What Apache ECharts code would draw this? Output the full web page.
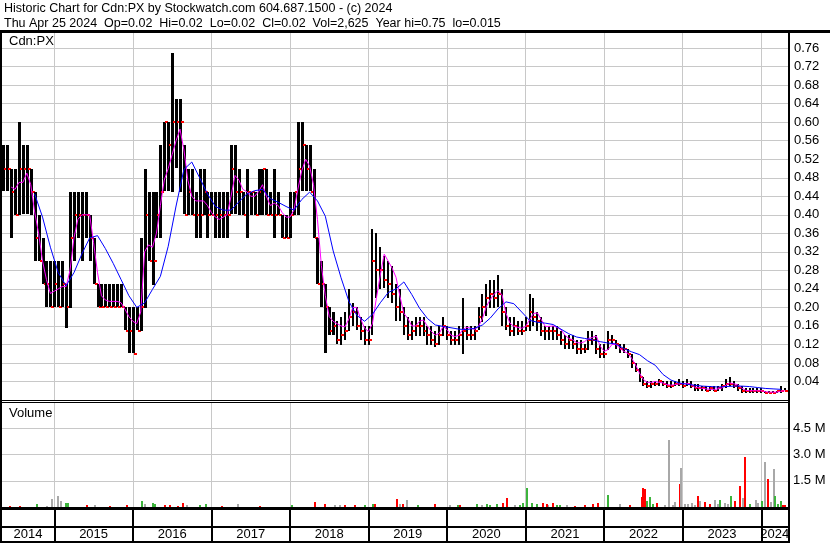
<!DOCTYPE html>
<html><head><meta charset="utf-8">
<script src="https://cdn.jsdelivr.net/npm/echarts@6/dist/echarts.min.js"></script>
<style>html,body{margin:0;padding:0;background:#fff}#c{width:830px;height:543px}</style>
</head><body><div id="c"></div>
<script>
// ---- data ----
const START = 2014.35;   // fractional year of first price point
const STEP = 0.05;       // years between price points
const high = [
 .55,.55,.50,.50,.60,.55,.55,.50,.45,.40,
 .35,.30,.30,.30,.30,.30,.25,.45,.45,.45,
 .45,.45,.40,.35,.25,.25,.25,.25,.25,.25,
 .25,.20,.20,.20,.20,.35,.50,.45,.45,.45,
 .55,.60,.60,.75,.65,.65,.55,.50,.50,.45,
 .50,.50,.45,.45,.45,.45,.45,.45,.55,.55,
 .50,.45,.50,.45,.45,.50,.50,.50,.45,.50,
 .45,.40,.40,.45,.45,.60,.60,.55,.55,.50,
 .35,.30,.25,.20,.19,.17,.18,.19,.24,.21,
 .20,.18,.16,.16,.37,.36,.33,.31,.30,.29,
 .25,.24,.20,.18,.17,.18,.18,.18,.16,.16,
 .15,.16,.18,.16,.15,.15,.16,.22,.16,.16,
 .16,.20,.23,.25,.26,.26,.27,.24,.20,.18,
 .18,.17,.17,.18,.23,.22,.19,.18,.16,.16,
 .16,.16,.15,.14,.14,.14,.13,.13,.12,.15,
 .15,.14,.12,.12,.15,.14,.13,.12,.12,.11,
 .10,.08,.07,.05,.04,.04,.04,.045,.04,.04,
 .04,.04,.045,.04,.045,.04,.035,.035,.03,.03,
 .03,.03,.03,.035,.045,.05,.04,.035,.03,.025,
 .025,.025,.025,.025,.02,.02,.02,.02,.03,.025
];
const low = [
 .45,.45,.35,.40,.40,.40,.40,.40,.30,.30,
 .25,.20,.20,.20,.20,.20,.155,.20,.30,.35,
 .30,.35,.30,.25,.20,.20,.20,.20,.20,.20,
 .20,.15,.10,.10,.15,.15,.20,.30,.25,.35,
 .35,.45,.45,.45,.50,.45,.40,.40,.40,.35,
 .35,.40,.35,.40,.35,.35,.35,.35,.40,.40,
 .40,.40,.35,.40,.40,.40,.40,.40,.40,.35,
 .40,.35,.35,.35,.40,.40,.45,.45,.45,.35,
 .25,.20,.10,.14,.14,.12,.12,.13,.15,.16,
 .15,.13,.12,.12,.14,.22,.24,.24,.22,.21,
 .17,.17,.14,.13,.13,.14,.14,.14,.12,.12,
 .115,.12,.14,.13,.12,.12,.12,.10,.13,.13,
 .13,.15,.17,.18,.20,.20,.20,.16,.15,.14,
 .14,.14,.14,.15,.15,.16,.15,.14,.13,.13,
 .13,.13,.12,.11,.11,.11,.10,.10,.10,.11,
 .12,.10,.09,.09,.11,.12,.11,.10,.10,.09,
 .07,.06,.04,.03,.025,.025,.03,.03,.03,.025,
 .025,.03,.03,.025,.03,.025,.02,.02,.02,.02,
 .02,.02,.02,.02,.025,.03,.025,.02,.015,.015,
 .015,.015,.015,.015,.015,.015,.015,.015,.015,.02
];
const close = [
 .50,.50,.45,.40,.50,.50,.50,.45,.35,.30,
 .25,.25,.20,.25,.20,.25,.20,.35,.40,.40,
 .40,.40,.35,.25,.20,.20,.20,.20,.20,.20,
 .20,.15,.15,.10,.15,.20,.40,.30,.30,.40,
 .45,.60,.55,.60,.60,.60,.40,.45,.40,.40,
 .40,.45,.40,.40,.40,.40,.40,.40,.50,.45,
 .45,.40,.45,.45,.40,.45,.50,.40,.40,.40,
 .40,.35,.35,.40,.45,.50,.55,.50,.45,.35,
 .25,.25,.20,.15,.16,.13,.14,.15,.18,.19,
 .16,.15,.13,.13,.30,.28,.28,.26,.25,.23,
 .20,.19,.16,.14,.15,.16,.16,.15,.14,.13,
 .12,.14,.16,.14,.13,.13,.14,.15,.14,.14,
 .15,.18,.20,.22,.23,.22,.23,.19,.16,.15,
 .16,.15,.15,.16,.19,.18,.17,.15,.15,.15,
 .15,.14,.13,.12,.13,.12,.11,.11,.11,.13,
 .13,.11,.10,.10,.13,.13,.12,.11,.11,.10,
 .08,.065,.05,.035,.03,.035,.035,.04,.035,.03,
 .03,.035,.035,.03,.035,.03,.025,.025,.025,.02,
 .025,.02,.025,.03,.035,.035,.03,.025,.02,.02,
 .02,.02,.02,.02,.015,.015,.015,.02,.02,.02
];
// short moving average (magenta), same dates as the price points
const maShort = [
 null,null,.46,.455,.47,.47,.49,.465,.406,.36,
 .30,.26,.23,.235,.24,.245,.245,.28,.35,.39,
 .40,.40,.40,.34,.275,.225,.216,.213,.213,.213,
 .21,.196,.18,.17,.165,.19,.32,.335,.33,.36,
 .42,.475,.50,.53,.56,.585,.54,.475,.44,.43,
 .43,.43,.42,.405,.395,.39,.395,.40,.44,.485,
 .475,.455,.45,.44,.44,.45,.465,.44,.42,.425,
 .42,.405,.395,.395,.41,.455,.495,.52,.505,.465,
 .39,.29,.225,.18,.17,.165,.16,.158,.175,.20,
 .20,.175,.155,.148,.165,.22,.27,.315,.30,.285,
 .265,.224,.187,.176,.16,.16,.17,.173,.159,.148,
 .14,.144,.159,.152,.14,.137,.14,.152,.157,.155,
 .152,.159,.176,.202,.217,.229,.236,.227,.187,.166,
 .159,.157,.155,.159,.173,.187,.188,.173,.159,.159,
 .16,.157,.152,.14,.133,.13,.124,.123,.126,.133,
 .135,.138,.116,.105,.109,.12,.12,.112,.105,.101,
 .09,.076,.058,.044,.038,.038,.04,.038,.037,.033,
 .032,.033,.035,.035,.036,.034,.028,.027,.025,.024,
 .023,.023,.024,.026,.032,.037,.035,.033,.026,.021,
 .02,.02,.02,.02,.018,.017,.017,.017,.019,.02
];
// long moving average (blue), one value every 0.1 year from START
const LONG_STEP = 0.1;
const maLong = [
 null,null,null,null,.445,.395,.33,.275,.247,.275,
 .315,.35,.355,.327,.295,.26,.225,.20,.21,.239,
 .267,.332,.419,.498,.514,.48,.445,.418,.41,.41,
 .428,.445,.452,.455,.435,.427,.418,.41,.433,.449,
 .43,.397,.322,.264,.213,.183,.17,.185,.21,.232,
 .24,.255,.228,.198,.176,.162,.159,.156,.153,.152,
 .155,.162,.177,.197,.212,.208,.19,.172,.168,.166,
 .163,.153,.143,.136,.133,.13,.126,.123,.121,.111,
 .104,.098,.085,.075,.055,.043,.037,.034,.032,.03,
 .029,.028,.029,.03,.03,.029,.027,.025,.024,.023
];
// volume bars: date (fractional year), size in millions, colour kind (r=down, g=up, n=unchanged)
const volYears = [
 2014.78,2014.97,2015.05,2015.09,2015.15,2015.17,2015.42,2015.52,2015.93,2016.12,
 2016.15,2016.26,2016.28,2016.47,2016.64,2016.69,2016.93,2017.34,2018.03,2018.32,
 2018.45,2018.57,2018.70,2019.06,2019.08,2019.36,2019.40,2019.44,2019.49,2019.63,
 2019.85,2020.04,2020.17,2020.38,2020.55,2020.71,2020.76,2020.87,2020.93,2021.02,
 2021.08,2021.22,2021.29,2021.35,2021.44,2021.63,2021.86,2021.92,2022.05,2022.20,
 2022.33,2022.48,2022.50,2022.52,2022.55,2022.58,2022.67,2022.83,2022.90,2022.96,
 2022.98,2023.07,2023.12,2023.19,2023.22,2023.28,2023.41,2023.48,2023.54,2023.61,
 2023.67,2023.73,2023.77,2023.79,2023.86,2023.93,2024.01,2024.05,2024.08,2024.12,
 2024.16,2024.18,2024.25,2024.30,
 2020.14,2020.44,2020.51,2020.63,2020.97,2021.14,2021.27,2021.40,2021.53,2021.76,
 2022.62,2022.77,2022.88,2023.03,2023.16,2023.35,2023.45,2023.58,2023.96,2024.21,
 2024.27,2014.43,2014.56,2014.91,2015.71,2016.41,2016.57,2016.85,2017.13,2017.62,
 2018.64,2018.83,2018.96
];
const volMillions = [
 .17,.48,.62,.35,.25,.25,.12,.12,.12,.35,
 .17,.25,.17,.12,.25,.12,.17,.17,.10,.29,
 .17,.12,.12,.17,.17,.48,.17,.17,.40,.10,
 .17,.12,.12,.17,.12,.23,.50,.12,.12,1.10,
 .23,.23,.12,.23,.12,.08,.17,.23,.70,.17,
 .10,.58,1.10,1.05,.35,.60,.23,3.85,.29,1.30,
 2.25,.17,.23,.62,.35,.29,.40,.40,.23,.62,
 .35,1.20,.50,2.85,.17,.40,.35,2.55,1.58,.29,
 2.20,.65,.35,.12,
 .12,.12,.17,.17,.23,.17,.17,.12,.12,.12,
 .17,.12,.12,.17,.12,.17,.17,.17,.23,.17,
 .12,.06,.06,.06,.06,.12,.06,.12,.06,.06,
 .12,.12,.12
];
const volKind = [
 'g','n','n','n','g','g','r','n','r','g',
 'n','g','g','r','r','n','g','n','g','r',
 'r','n','r','g','r','r','n','r','n','g',
 'r','n','r','g','g','r','r','n','g','g',
 'g','r','n','r','g','r','r','r','g','n',
 'r','r','r','r','g','g','r','n','n','r',
 'n','n','n','r','n','r','n','g','n','g',
 'r','r','n','r','g','n','g','n','r','n',
 'n','g','g','r',
 'g','n','g','g','g','g','r','g','n','r',
 'g','n','n','n','n','r','n','n','n','g',
 'r','r','r','n','r','r','r','g','r','r',
 'n','r','g'
];
const yearBounds = [2015,2016,2017,2018,2019,2020,2021,2022,2023,2024];
const yearLabels = ['2014','2015','2016','2017','2018','2019','2020','2021','2022','2023','2024'];
const yearLabelPos = [2014.665,2015.5,2016.5,2017.5,2018.5,2019.5,2020.5,2021.5,2022.5,2023.5,2024.17];
const titleLine1 = 'Historic Chart for Cdn:PX by Stockwatch.com 604.687.1500 - (c) 2024';
const titleLine2 = 'Thu Apr 25 2024  Op=0.02  Hi=0.02  Lo=0.02  Cl=0.02  Vol=2,625  Year hi=0.75  lo=0.015';

// ---- chart ----
const FONT = '"Liberation Sans", Arial, sans-serif';
const X_MIN = 2014.334, X_MAX = 2024.34;
const GRID_L = 2, GRID_R = 42;
const PRICE_MAX = 368 / 463;
const kindColor = {r: '#ff0000', g: '#3cb43c', n: '#a8a8a8'};

const priceData = high.map((h, i) => [START + STEP * i, low[i], h, close[i]]);
const shortData = maShort.map((v, i) => [START + STEP * i, v]);
const longData = maLong.map((v, j) => [START + LONG_STEP * j, v]);
const volData = volYears.map((t, k) => [t, volMillions[k], k]);

const chart = echarts.init(document.getElementById('c'), null, {renderer: 'canvas', width: 830, height: 543});
const grayLine = {show: true, lineStyle: {color: '#c8c8c8', width: 1}};
const hiddenX = (gi) => ({gridIndex: gi, type: 'value', min: X_MIN, max: X_MAX,
  axisLine: {show: false}, axisTick: {show: false, customValues: yearBounds}, axisLabel: {show: false}, splitLine: grayLine});

chart.setOption({
  animation: false,
  backgroundColor: '#fff',
  grid: [
    {left: GRID_L, right: GRID_R, top: 32, height: 368},
    {left: GRID_L, right: GRID_R, top: 402, height: 105},
    {left: GRID_L, right: GRID_R, top: 510, height: 31}
  ],
  xAxis: [
    hiddenX(0),
    hiddenX(1),
    {gridIndex: 2, type: 'value', min: X_MIN, max: X_MAX, position: 'bottom',
      axisLine: {show: false},
      axisTick: {show: true, inside: true, length: 31, customValues: yearBounds, lineStyle: {color: '#000', width: 2}},
      axisLabel: {show: true, inside: true, margin: 0, customValues: yearLabelPos,
        color: '#000', fontSize: 13, fontFamily: FONT,
        formatter: (v) => {
          let best = 0;
          yearLabelPos.forEach((p, k) => { if (Math.abs(p - v) < Math.abs(yearLabelPos[best] - v)) best = k; });
          return yearLabels[best];
        }},
      splitLine: {show: false}}
  ],
  yAxis: [
    {gridIndex: 0, type: 'value', position: 'right', min: 0, max: PRICE_MAX, interval: 0.04,
      axisLine: {show: false}, axisTick: {show: false}, splitLine: grayLine,
      axisLabel: {showMinLabel: false, showMaxLabel: false, margin: 6, color: '#000', fontSize: 13, fontFamily: FONT,
        formatter: (v) => v.toFixed(2)}},
    {gridIndex: 1, type: 'value', position: 'right', min: 0, max: 6, interval: 1.5,
      axisLine: {show: false}, axisTick: {show: false}, splitLine: grayLine,
      axisLabel: {showMinLabel: false, showMaxLabel: false, margin: 5, color: '#000', fontSize: 13, fontFamily: FONT,
        formatter: (v) => v.toFixed(1) + ' M'}},
    {gridIndex: 2, type: 'value', show: false}
  ],
  series: [
    {type: 'custom', xAxisIndex: 0, yAxisIndex: 0, data: priceData, z: 2,
      renderItem: (params, api) => {
        const x = api.value(0);
        const pLo = api.coord([x, api.value(1)]);
        const pHi = api.coord([x, api.value(2)]);
        const pCl = api.coord([x, api.value(3)]);
        const bx = Math.round(pLo[0]);
        const w = x < 2018.6 ? 3 : 2;
        return {type: 'group', children: [
          {type: 'rect', shape: {x: bx - 1, y: Math.round(pHi[1]), width: w, height: Math.max(1, Math.round(pLo[1] - pHi[1]))}, style: {fill: '#000'}},
          {type: 'rect', shape: {x: bx + w - 2, y: Math.round(pCl[1]) - 1, width: 3, height: 2}, style: {fill: '#ff0000'}}
        ]};
      }},
    {type: 'line', xAxisIndex: 0, yAxisIndex: 0, data: shortData, showSymbol: false, z: 3,
      lineStyle: {color: '#ff00ff', width: 1}},
    {type: 'line', xAxisIndex: 0, yAxisIndex: 0, data: longData, showSymbol: false, z: 4,
      lineStyle: {color: '#0000ff', width: 1}},
    {type: 'custom', xAxisIndex: 1, yAxisIndex: 1, data: volData, z: 2,
      renderItem: (params, api) => {
        const p = api.coord([api.value(0), api.value(1)]);
        const b = api.coord([api.value(0), 0]);
        const bx = Math.round(p[0]);
        return {type: 'rect', shape: {x: bx - 1, y: Math.round(p[1]), width: 2, height: Math.max(1, Math.round(b[1] - p[1]))},
          style: {fill: kindColor[volKind[api.value(2)]]}};
      }}
  ],
  graphic: [
    {type: 'rect', shape: {x: 0, y: 30, width: 830, height: 3}, style: {fill: '#000'}, z: 100},
    {type: 'rect', shape: {x: 0, y: 30, width: 2, height: 513}, style: {fill: '#000'}, z: 100},
    {type: 'rect', shape: {x: 788, y: 30, width: 2, height: 513}, style: {fill: '#000'}, z: 100},
    {type: 'rect', shape: {x: 0, y: 400, width: 790, height: 1}, style: {fill: '#000'}, z: 100},
    {type: 'rect', shape: {x: 0, y: 402, width: 790, height: 1}, style: {fill: '#000'}, z: 100},
    {type: 'rect', shape: {x: 0, y: 507, width: 790, height: 3}, style: {fill: '#000'}, z: 100},
    {type: 'rect', shape: {x: 0, y: 526, width: 790, height: 2}, style: {fill: '#000'}, z: 100},
    {type: 'rect', shape: {x: 0, y: 541, width: 790, height: 2}, style: {fill: '#000'}, z: 100},
    {type: 'text', left: 4, top: 2, style: {text: titleLine1, fill: '#000', font: '12.5px ' + FONT}, z: 100},
    {type: 'text', left: 4, top: 17, style: {text: titleLine2, fill: '#000', font: '12.5px ' + FONT}, z: 100},
    {type: 'text', left: 9, top: 34.5, style: {text: 'Cdn:PX', fill: '#000', font: '13px ' + FONT}, z: 100},
    {type: 'text', left: 9, top: 406.5, style: {text: 'Volume', fill: '#000', font: '13px ' + FONT}, z: 100}
  ]
});
</script>
</body></html>
